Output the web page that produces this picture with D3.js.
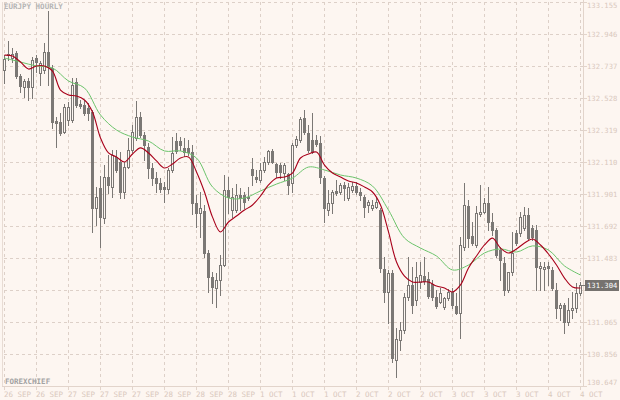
<!DOCTYPE html>
<html>
<head>
<meta charset="utf-8">
<script src="https://cdn.jsdelivr.net/npm/d3@7/dist/d3.min.js"></script>
<style>
  html, body { margin: 0; padding: 0; background: #fdf6f1; }
  svg { display: block; }
  text { font-family: "DejaVu Sans Mono", monospace; }
</style>
</head>
<body>
<svg id="chart" width="620" height="400"></svg>
<script>
// EURJPY hourly bars, 26 Sep - 4 Oct
const opens = [132.711,132.815,132.789,132.821,132.672,132.600,132.639,132.600,132.789,132.691,132.711,132.828,132.724,132.378,132.371,132.306,132.384,132.384,132.633,132.489,
  132.482,132.463,132.437,131.809,131.940,131.744,132.012,131.947,132.143,132.110,131.914,132.077,132.188,132.267,132.404,132.286,132.208,132.071,132.005,131.973,
  131.947,131.934,132.058,132.247,132.247,132.202,132.202,132.175,131.842,131.777,131.790,131.516,131.359,131.287,131.339,131.437,131.927,131.796,131.796,131.894,
  131.894,131.875,132.064,132.012,131.992,132.058,132.110,132.182,132.097,132.090,132.038,132.032,131.973,132.221,132.254,132.397,132.299,132.254,132.254,132.234,
  132.005,131.796,131.842,131.921,131.914,131.960,131.875,131.927,131.953,131.914,131.881,131.829,131.809,131.816,131.796,131.411,131.261,131.385,130.817,130.947,
  131.013,131.228,131.306,131.209,131.326,131.365,131.346,131.313,131.228,131.196,131.163,131.222,131.261,131.169,131.124,131.555,131.822,131.627,131.568,131.770,
  131.783,131.842,131.718,131.666,131.535,131.450,131.274,131.392,131.646,131.646,131.679,131.764,131.679,131.666,131.418,131.411,131.431,131.405,131.274,131.156,
  131.176,131.065,131.143,131.156,131.254];
const highs = [132.808,132.900,132.854,132.835,132.685,132.652,132.659,132.796,132.808,132.769,132.887,133.096,132.743,132.404,132.430,132.489,132.502,132.659,132.659,132.515,
  132.515,132.495,132.450,131.947,132.018,132.090,132.156,132.188,132.188,132.175,132.110,132.267,132.352,132.509,132.437,132.306,132.234,132.103,132.045,132.005,
  131.979,132.071,132.273,132.299,132.273,132.267,132.254,132.221,131.894,131.914,131.829,131.535,131.392,131.385,131.503,132.025,132.012,131.940,131.966,131.940,
  131.914,131.947,132.136,132.058,132.103,132.143,132.188,132.195,132.103,132.103,132.103,132.038,132.234,132.280,132.404,132.450,132.352,132.430,132.286,132.280,
  132.018,131.927,131.927,131.992,131.973,131.979,131.973,131.979,131.979,131.940,131.894,131.862,131.862,131.881,131.809,131.490,131.405,131.405,131.026,131.065,
  131.254,131.490,131.424,131.457,131.457,131.490,131.392,131.339,131.274,131.287,131.228,131.281,131.287,131.254,131.620,131.973,131.862,131.718,131.822,131.960,
  131.875,131.947,131.777,131.679,131.555,131.490,131.339,131.653,131.666,131.783,131.816,131.809,131.698,131.698,131.457,131.457,131.457,131.424,131.320,131.189,
  131.189,131.222,131.261,131.320,131.326];
const lows = [132.626,132.776,132.763,132.659,132.567,132.534,132.515,132.528,132.698,132.613,132.691,132.613,132.332,132.208,132.286,132.299,132.352,132.371,132.469,132.463,
  132.417,132.384,131.653,131.698,131.555,131.711,131.907,131.881,132.045,131.875,131.875,132.071,132.175,132.254,132.273,132.123,132.005,131.960,131.914,131.914,
  131.849,131.907,132.045,132.169,132.188,132.149,132.156,131.770,131.685,131.620,131.490,131.261,131.189,131.163,131.241,131.431,131.777,131.750,131.783,131.796,
  131.809,131.862,131.960,131.979,131.979,132.045,132.097,132.103,132.012,132.005,131.992,131.901,131.914,132.208,132.241,132.293,132.175,132.169,132.215,131.973,
  131.718,131.764,131.777,131.894,131.901,131.862,131.862,131.914,131.901,131.862,131.750,131.783,131.796,131.809,131.392,131.196,131.058,130.804,130.706,130.882,
  130.993,131.209,131.124,131.176,131.287,131.313,131.222,131.209,131.156,131.189,131.150,131.209,131.156,131.117,130.960,131.535,131.555,131.568,131.555,131.757,
  131.777,131.666,131.633,131.490,131.339,131.241,131.261,131.372,131.568,131.627,131.666,131.601,131.601,131.274,131.274,131.274,131.307,131.274,131.091,131.078,
  130.993,131.045,131.091,131.130,131.241];
const closes = [132.783,132.808,132.815,132.672,132.607,132.639,132.600,132.776,132.763,132.757,132.828,132.737,132.371,132.365,132.299,132.469,132.469,132.613,132.482,132.476,
  132.430,132.430,131.809,131.881,131.750,132.012,131.960,132.156,132.058,131.914,132.077,132.188,132.306,132.404,132.286,132.221,132.071,132.005,131.973,131.934,
  131.934,132.058,132.169,132.182,132.221,132.175,132.175,131.842,131.777,131.809,131.516,131.359,131.294,131.339,131.437,131.927,131.881,131.881,131.894,131.875,
  131.849,131.881,132.025,131.999,132.058,132.110,132.182,132.110,132.045,132.045,132.090,131.960,132.221,132.260,132.391,132.306,132.188,132.175,132.228,132.012,
  131.809,131.842,131.914,131.907,131.960,131.940,131.947,131.953,131.914,131.894,131.816,131.849,131.829,131.849,131.418,131.261,131.385,130.830,130.954,131.013,
  131.228,131.306,131.176,131.359,131.372,131.333,131.235,131.228,131.169,131.254,131.222,131.261,131.176,131.124,131.568,131.829,131.613,131.581,131.777,131.783,
  131.842,131.718,131.666,131.503,131.470,131.274,131.392,131.516,131.581,131.750,131.764,131.613,131.620,131.424,131.431,131.424,131.418,131.287,131.156,131.176,
  131.065,131.143,131.156,131.254,131.304];

// moving averages: fast one every 2 bars, slow one every 4 bars
const maFast = [132.808,132.802,132.763,132.717,132.737,132.737,132.704,132.580,132.548,132.541,132.515,132.437,132.267,132.169,132.143,132.110,132.162,132.202,132.169,132.117,
  132.071,132.097,132.136,132.143,132.045,131.914,131.750,131.653,131.718,131.757,131.796,131.829,131.888,131.960,132.005,132.012,132.038,132.136,132.162,132.175,
  132.090,132.038,132.012,131.986,131.973,131.947,131.914,131.829,131.653,131.457,131.365,131.326,131.326,131.326,131.300,131.287,131.261,131.307,131.418,131.496,
  131.568,131.613,131.548,131.516,131.542,131.581,131.607,131.568,131.509,131.437,131.352,131.294,131.287];
const maSlow = [132.789,132.763,132.737,132.724,132.639,132.593,132.417,132.319,132.273,132.247,132.182,132.182,132.136,131.947,131.875,131.875,131.921,131.966,132.005,132.077,
  132.058,132.025,132.005,131.953,131.796,131.613,131.548,131.496,131.405,131.437,131.516,131.542,131.522,131.562,131.535,131.431,131.372];

const priceTicks = [133.155,132.946,132.737,132.528,132.319,132.110,131.901,131.692,131.483,131.274,131.065,130.856,130.647];
const timeLabels = ["26 SEP","26 SEP","27 SEP","27 SEP","27 SEP","28 SEP","28 SEP","28 SEP","1 OCT","1 OCT","1 OCT",
  "2 OCT","2 OCT","2 OCT","3 OCT","3 OCT","3 OCT","4 OCT","4 OCT"];
const barsPerLabel = 8;

const bg = "#fdf6f1";
const candleColor = "#7b7875";
const gridColor = "#ddd0c8";
const axisText = "#d9c8bd";

const svg = d3.select("#chart");
svg.append("rect").attr("width", 620).attr("height", 400).attr("fill", bg);

const bars = opens.map((o, i) => ({ i, o, h: highs[i], l: lows[i], c: closes[i] }));

const x = d3.scaleLinear().domain([0, bars.length - 1]).range([4.5, 580.5]);
const y = d3.scaleLinear().domain([130.647, 133.155]).range([386, 2]);
const yPix = (v) => Math.round(y(v));

// grid
const grid = svg.append("g");
grid.selectAll(".hgrid")
  .data(priceTicks)
  .join("line")
  .attr("class", "hgrid")
  .attr("x1", 4).attr("x2", 583)
  .attr("y1", (d) => yPix(d) + 0.5).attr("y2", (d) => yPix(d) + 0.5)
  .attr("stroke", gridColor)
  .attr("stroke-dasharray", "3,3");
grid.selectAll(".vgrid")
  .data(timeLabels)
  .join("line")
  .attr("class", "vgrid")
  .attr("x1", (d, k) => x(k * barsPerLabel)).attr("x2", (d, k) => x(k * barsPerLabel))
  .attr("y1", 2).attr("y2", 386)
  .attr("stroke", gridColor)
  .attr("stroke-dasharray", "3,3");

// frame
svg.append("line").attr("x1", 2.5).attr("x2", 2.5).attr("y1", 2).attr("y2", 386).attr("stroke", "#e8dcd4");
svg.append("line").attr("x1", 583.5).attr("x2", 583.5).attr("y1", 0).attr("y2", 387).attr("stroke", "#e2d4cb");
svg.append("line").attr("x1", 2).attr("x2", 584).attr("y1", 386.5).attr("y2", 386.5).attr("stroke", "#e2d4cb");

// price axis
const last = bars[bars.length - 1];
const ly = yPix(last.c);
const pAxis = svg.append("g");
pAxis.selectAll(".ptick")
  .data(priceTicks)
  .join("line")
  .attr("class", "ptick")
  .attr("x1", 583).attr("x2", 587)
  .attr("y1", (d) => yPix(d) + 0.5).attr("y2", (d) => yPix(d) + 0.5)
  .attr("stroke", "#e2d4cb");
pAxis.selectAll(".plabel")
  .data(priceTicks.filter((d) => Math.abs(yPix(d) - ly) > 8))
  .join("text")
  .attr("class", "plabel")
  .attr("x", 587)
  .attr("y", (d) => {
    if (d === priceTicks[0]) return yPix(d) + 6;
    if (d === priceTicks[priceTicks.length - 1]) return yPix(d) - 1;
    return yPix(d) + 3;
  })
  .attr("font-size", 7.2)
  .attr("fill", axisText)
  .text((d) => d.toFixed(3));

// time axis
const tAxis = svg.append("g");
tAxis.selectAll(".ttick")
  .data(timeLabels)
  .join("line")
  .attr("class", "ttick")
  .attr("x1", (d, k) => x(k * barsPerLabel)).attr("x2", (d, k) => x(k * barsPerLabel))
  .attr("y1", 386).attr("y2", 390)
  .attr("stroke", "#e2d4cb");
tAxis.selectAll(".tlabel")
  .data(timeLabels)
  .join("text")
  .attr("class", "tlabel")
  .attr("x", (d, k) => x(k * barsPerLabel) - 0.5)
  .attr("y", 397)
  .attr("font-size", 7.5)
  .attr("fill", axisText)
  .text((d) => d);

// candles
const candles = svg.append("g");
candles.selectAll(".wick")
  .data(bars)
  .join("line")
  .attr("class", "wick")
  .attr("x1", (d) => x(d.i)).attr("x2", (d) => x(d.i))
  .attr("y1", (d) => yPix(d.h)).attr("y2", (d) => yPix(d.l) + 1)
  .attr("stroke", candleColor);
candles.selectAll(".body")
  .data(bars)
  .join("rect")
  .attr("class", "body")
  .each(function (d) {
    const top = yPix(Math.max(d.o, d.c));
    const bot = yPix(Math.min(d.o, d.c));
    const el = d3.select(this);
    if (d.c > d.o) {
      el.attr("x", x(d.i) - 1).attr("y", top + 0.5)
        .attr("width", 2).attr("height", Math.max(0, bot - top))
        .attr("fill", bg).attr("stroke", candleColor);
    } else {
      el.attr("x", x(d.i) - 1.5).attr("y", top)
        .attr("width", 3).attr("height", Math.max(1, bot - top + 1))
        .attr("fill", candleColor);
    }
  });

// moving averages
const line = d3.line()
  .x((d) => x(d.i))
  .y((d) => y(d.v))
  .curve(d3.curveCatmullRom);
svg.append("path")
  .datum(maSlow.map((v, k) => ({ i: k * 4, v })))
  .attr("d", line)
  .attr("fill", "none")
  .attr("stroke", "#6cc46c")
  .attr("stroke-width", 1);
svg.append("path")
  .datum(maFast.map((v, k) => ({ i: k * 2, v })))
  .attr("d", line)
  .attr("fill", "none")
  .attr("stroke", "#a8001a")
  .attr("stroke-width", 1.1);

// last price marker
svg.append("line")
  .attr("x1", x(last.i)).attr("x2", 585)
  .attr("y1", ly + 0.5).attr("y2", ly + 0.5)
  .attr("stroke", candleColor);
svg.append("rect")
  .attr("x", 585).attr("y", ly - 5)
  .attr("width", 34).attr("height", 11)
  .attr("fill", "#76726f");
svg.append("text")
  .attr("x", 587).attr("y", ly + 3)
  .attr("font-size", 7.2)
  .attr("fill", "#ffffff")
  .text(last.c.toFixed(3));

// captions
svg.append("text")
  .attr("x", 4).attr("y", 9)
  .attr("font-size", 7.5)
  .attr("font-weight", "bold")
  .attr("fill", "#b4b4b4")
  .text("EURJPY HOURLY");
svg.append("text")
  .attr("x", 5).attr("y", 384)
  .attr("font-size", 7.5)
  .attr("font-weight", "bold")
  .attr("fill", "#a2a2a2")
  .text("FOREXCHIEF");
</script>
</body>
</html>
